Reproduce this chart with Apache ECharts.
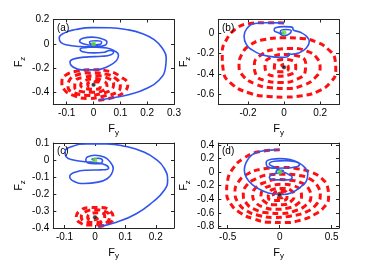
<!DOCTYPE html>
<html><head><meta charset="utf-8">
<script src="https://cdn.jsdelivr.net/npm/echarts@6/dist/echarts.min.js"></script>
<style>html,body{margin:0;padding:0;background:#fff}#c{width:374px;height:262px}</style>
</head><body><div id="c"></div>
<script>
// ---- tick labels ----
const ticksAx = [-0.1, 0, 0.1, 0.2, 0.3];
const ticksAy = [-0.4, -0.2, 0, 0.2];
const ticksBx = [-0.2, 0, 0.2];
const ticksBy = [-0.6, -0.4, -0.2, 0];
const ticksCx = [-0.1, 0, 0.1, 0.2];
const ticksCy = [-0.4, -0.3, -0.2, -0.1, 0, 0.1];
const ticksDx = [-0.5, 0, 0.5];
const ticksDy = [-0.8, -0.6, -0.4, -0.2, 0, 0.2, 0.4];
const panelLabels = ['(a)', '(b)', '(c)', '(d)'];

// ---- fixed points [Fy, Fz] ----
const greenPoint = [0, 0];
const blackPoint = [0, -0.337];

// ---- trajectories [Fy, Fz] ----
const blueA = [[0.018,-0.465],[0.073,-0.445],[0.134,-0.418],[0.195,-0.37],[0.244,-0.3],[0.268,-0.2],[0.271,-0.116],[0.256,-0.035],[0.226,0.034],[0.183,0.083],[0.122,0.118],[0.061,0.132],[-0.006,0.133],[-0.067,0.117],[-0.11,0.088],[-0.128,0.047],[-0.122,0.012],[-0.098,-0.01],[-0.05,-0.022],[0.012,-0.028],[0.05,-0.035],[0.08,-0.06],[0.093,-0.095],[0.085,-0.14],[0.055,-0.185],[0.005,-0.215],[-0.045,-0.215],[-0.08,-0.185],[-0.088,-0.15],[-0.065,-0.12],[-0.02,-0.108],[0.03,-0.103],[0.065,-0.09],[0.075,-0.07],[0.06,-0.055],[0.04,-0.07],[0.0,-0.075],[-0.04,-0.065],[-0.05,-0.045],[-0.025,-0.03],[0.015,-0.022],[0.045,-0.01],[0.05,0.015],[0.03,0.042],[-0.005,0.055],[-0.04,0.045],[-0.052,0.02],[-0.035,-0.002],[-0.005,-0.012],[0.025,-0.005],[0.03,0.015],[0.01,0.025],[-0.015,0.015],[-0.01,0.0],[0.005,0.0]];
const redA = [[0.018,-0.465],[0.075,-0.44],[0.115,-0.395],[0.128,-0.335],[0.1,-0.27],[0.06,-0.228],[0.0,-0.213],[-0.06,-0.225],[-0.105,-0.26],[-0.118,-0.315],[-0.11,-0.375],[-0.075,-0.425],[-0.02,-0.45],[0.04,-0.43],[0.09,-0.395],[0.1,-0.345],[0.085,-0.29],[0.045,-0.25],[-0.01,-0.24],[-0.06,-0.255],[-0.09,-0.3],[-0.095,-0.355],[-0.07,-0.405],[-0.02,-0.425],[0.03,-0.41],[0.068,-0.375],[0.075,-0.33],[0.055,-0.285],[0.015,-0.265],[-0.035,-0.275],[-0.068,-0.31],[-0.07,-0.36],[-0.04,-0.395],[0.0,-0.4],[0.04,-0.38],[0.05,-0.34],[0.035,-0.305],[0.0,-0.29],[-0.035,-0.305],[-0.048,-0.34],[-0.03,-0.37],[0.005,-0.375],[0.025,-0.355],[0.025,-0.325],[0.0,-0.313],[-0.022,-0.33],[-0.015,-0.352],[0.0,-0.337]];
const blueB = [[0.0,0.097],[-0.1,0.098],[-0.17,0.088],[-0.205,0.045],[-0.222,-0.03],[-0.21,-0.11],[-0.165,-0.18],[-0.09,-0.228],[-0.01,-0.24],[0.025,-0.225],[0.02,-0.2],[0.04,-0.21],[0.085,-0.195],[0.125,-0.145],[0.14,-0.085],[0.125,-0.035],[0.09,0.005],[0.05,0.03],[0.048,0.052],[0.0,0.06],[-0.048,0.05],[-0.055,0.025],[-0.03,0.0],[0.0,-0.028],[0.03,-0.01],[0.04,0.02],[0.01,0.032],[-0.02,0.015],[-0.01,-0.005],[0.0,0.0]];
const redB = [[0.0,0.097],[-0.106,0.098],[-0.198,0.088],[-0.272,0.033],[-0.319,-0.065],[-0.343,-0.195],[-0.337,-0.374],[-0.291,-0.498],[-0.198,-0.585],[-0.087,-0.621],[0.0,-0.628],[0.098,-0.615],[0.191,-0.569],[0.256,-0.488],[0.287,-0.374],[0.283,-0.26],[0.246,-0.163],[0.181,-0.091],[0.098,-0.055],[0.0,-0.049],[-0.106,-0.065],[-0.189,-0.12],[-0.235,-0.211],[-0.25,-0.325],[-0.226,-0.423],[-0.161,-0.498],[-0.069,-0.537],[0.015,-0.543],[0.107,-0.511],[0.172,-0.439],[0.2,-0.341],[0.181,-0.244],[0.126,-0.179],[0.043,-0.153],[-0.05,-0.163],[-0.124,-0.211],[-0.165,-0.309],[-0.157,-0.407],[-0.106,-0.465],[-0.013,-0.485],[0.07,-0.455],[0.117,-0.38],[0.12,-0.293],[0.08,-0.228],[0.006,-0.211],[-0.069,-0.237],[-0.106,-0.309],[-0.096,-0.39],[-0.041,-0.423],[0.033,-0.407],[0.065,-0.341],[0.052,-0.276],[-0.004,-0.26],[-0.05,-0.293],[-0.054,-0.358],[-0.013,-0.38],[0.024,-0.351],[0.015,-0.309],[-0.013,-0.316],[0.0,-0.337]];
const blueC = [[0.011,-0.391],[0.071,-0.366],[0.136,-0.316],[0.19,-0.247],[0.228,-0.178],[0.239,-0.119],[0.228,-0.049],[0.201,0.004],[0.158,0.049],[0.103,0.079],[0.038,0.095],[-0.027,0.095],[-0.076,0.079],[-0.098,0.049],[-0.095,0.02],[-0.071,0.0],[-0.033,-0.01],[0.005,-0.016],[0.035,-0.03],[0.045,-0.048],[0.02,-0.058],[-0.025,-0.06],[-0.065,-0.072],[-0.083,-0.097],[-0.07,-0.125],[-0.035,-0.138],[0.01,-0.13],[0.04,-0.11],[0.055,-0.08],[0.06,-0.05],[0.05,-0.012],[0.03,0.018],[0.0,0.028],[-0.025,0.018],[-0.03,0.0],[-0.015,-0.02],[0.015,-0.022],[0.025,-0.005],[0.01,0.01],[-0.01,0.005],[0.0,-0.003]];
const redC = [[0.011,-0.391],[0.045,-0.375],[0.06,-0.34],[0.05,-0.3],[0.02,-0.28],[-0.02,-0.28],[-0.05,-0.3],[-0.062,-0.335],[-0.05,-0.368],[-0.02,-0.383],[0.015,-0.38],[0.043,-0.36],[0.048,-0.33],[0.032,-0.302],[0.0,-0.293],[-0.032,-0.305],[-0.045,-0.335],[-0.032,-0.362],[0.0,-0.368],[0.027,-0.355],[0.032,-0.328],[0.012,-0.31],[-0.015,-0.315],[-0.024,-0.338],[-0.008,-0.352],[0.008,-0.345],[0.0,-0.337]];
const blueD = [[0.0,0.33],[-0.1,0.325],[-0.19,0.305],[-0.27,0.25],[-0.32,0.15],[-0.34,0.03],[-0.32,-0.08],[-0.26,-0.19],[-0.17,-0.27],[-0.07,-0.32],[0.03,-0.33],[0.12,-0.3],[0.2,-0.22],[0.26,-0.12],[0.27,-0.02],[0.24,0.07],[0.18,0.14],[0.1,0.185],[0.0,0.2],[-0.08,0.19],[-0.13,0.14],[-0.12,0.085],[-0.05,0.058],[0.05,0.06],[0.15,0.075],[0.19,0.11],[0.15,0.155],[0.05,0.17],[-0.05,0.16],[-0.1,0.12],[-0.06,0.08],[0.0,0.03],[0.08,-0.03],[0.12,-0.075],[0.07,-0.115],[-0.03,-0.115],[-0.1,-0.075],[-0.07,-0.035],[-0.01,-0.01],[0.035,0.02],[-0.02,0.03],[-0.035,-0.01],[0.02,-0.02],[0.0,0.0]];
const redD = [[0.0,0.33],[-0.2,0.3],[-0.35,0.2],[-0.45,0.05],[-0.5,-0.12],[-0.51,-0.3],[-0.47,-0.47],[-0.38,-0.6],[-0.25,-0.69],[-0.1,-0.74],[0.05,-0.745],[0.2,-0.71],[0.33,-0.63],[0.43,-0.51],[0.47,-0.37],[0.46,-0.22],[0.4,-0.09],[0.3,0.0],[0.17,0.05],[0.03,0.07],[-0.15,0.05],[-0.3,-0.02],[-0.4,-0.15],[-0.43,-0.3],[-0.4,-0.45],[-0.32,-0.57],[-0.2,-0.64],[-0.05,-0.67],[0.1,-0.65],[0.25,-0.59],[0.35,-0.48],[0.39,-0.35],[0.37,-0.22],[0.3,-0.11],[0.19,-0.05],[0.05,-0.03],[-0.1,-0.04],[-0.23,-0.1],[-0.32,-0.2],[-0.35,-0.33],[-0.32,-0.46],[-0.24,-0.55],[-0.12,-0.6],[0.02,-0.61],[0.15,-0.57],[0.25,-0.49],[0.3,-0.37],[0.28,-0.25],[0.21,-0.16],[0.1,-0.12],[-0.02,-0.11],[-0.14,-0.15],[-0.23,-0.23],[-0.26,-0.34],[-0.23,-0.45],[-0.15,-0.52],[-0.04,-0.55],[0.08,-0.53],[0.17,-0.47],[0.21,-0.37],[0.2,-0.27],[0.13,-0.2],[0.03,-0.18],[-0.08,-0.2],[-0.16,-0.26],[-0.18,-0.35],[-0.15,-0.43],[-0.07,-0.48],[0.03,-0.48],[0.11,-0.43],[0.14,-0.35],[0.11,-0.27],[0.04,-0.24],[-0.05,-0.25],[-0.1,-0.3],[-0.11,-0.37],[-0.06,-0.42],[0.02,-0.42],[0.07,-0.38],[0.07,-0.31],[0.02,-0.28],[-0.03,-0.29],[-0.06,-0.34],[-0.03,-0.38],[0.02,-0.38],[0.04,-0.34],[0.01,-0.31],[-0.01,-0.33],[0.0,-0.34]];

// ---- layout ----
const panels = [
  {grid:{left:53.3, top:19.5, width:120.7, height:85}, x:[-0.15,0.3], y:[-0.5,0.2], xt:ticksAx, yt:ticksAy, blue:blueA, red:redA, lab:[57,29]},
  {grid:{left:218.3, top:19.5, width:120.7, height:85}, x:[-0.365,0.305], y:[-0.7,0.13], xt:ticksBx, yt:ticksBy, blue:blueB, red:redB, lab:[222,29]},
  {grid:{left:53.3, top:143, width:120.7, height:85}, x:[-0.137,0.26], y:[-0.4,0.1], xt:ticksCx, yt:ticksCy, blue:blueC, red:redC, lab:[57,152]},
  {grid:{left:218.3, top:143, width:120.7, height:85}, x:[-0.59,0.57], y:[-0.825,0.43], xt:ticksDx, yt:ticksDy, blue:blueD, red:redD, lab:[222,152]}
];

const FONT = 'Liberation Sans, Arial, Helvetica, sans-serif';
const AX = '#262626';
const grids = [], xAxes = [], yAxes = [], series = [], graphics = [];
const nameRich = {f:{fontSize:11, fontFamily:FONT, color:'#000'}, s:{fontSize:8, fontFamily:FONT, color:'#000', padding:[7,0,0,0]}};
panels.forEach((p, i) => {
  grids.push(p.grid);
  const common = (vals, min, max, pos, showLab) => ({
    type:'value', gridIndex:i, min:min, max:max, position:pos,
    splitLine:{show:false},
    axisLine:{show:true, onZero:false, lineStyle:{color:AX, width:1}},
    axisTick:{show:true, inside:true, length:3, customValues:vals, lineStyle:{color:AX}},
    axisLabel:{show:showLab, customValues:vals, fontSize:10, fontFamily:FONT, color:'#000', margin:4},
  });
  const xb = common(p.xt, p.x[0], p.x[1], 'bottom', true);
  xb.name = '{f|F}{s|y}'; xb.nameLocation = 'middle'; xb.nameGap = 17; xb.nameTextStyle = {rich:nameRich};
  const xt = common(p.xt, p.x[0], p.x[1], 'top', false);
  const yl = common(p.yt, p.y[0], p.y[1], 'left', true);
  yl.name = '{f|F}{s|z}'; yl.nameLocation = 'middle'; yl.nameGap = 27; yl.nameRotate = 90; yl.nameTextStyle = {rich:nameRich};
  const yr = common(p.yt, p.y[0], p.y[1], 'right', false);
  xAxes.push(xb, xt); yAxes.push(yl, yr);
  const xi = 2*i, yi = 2*i;
  series.push({type:'line', xAxisIndex:xi, yAxisIndex:yi, data:p.red, showSymbol:false, smooth:0.5, silent:true, animation:false, z:2,
    lineStyle:{color:'#ff1010', width:3, type:[6,4]}});
  series.push({type:'line', xAxisIndex:xi, yAxisIndex:yi, data:p.blue, showSymbol:false, smooth:0.5, silent:true, animation:false, z:3,
    lineStyle:{color:'#2f55ee', width:1.6}});
  series.push({type:'scatter', xAxisIndex:xi, yAxisIndex:yi, data:[greenPoint], symbol:'circle', symbolSize:5, silent:true, animation:false, z:5,
    itemStyle:{color:'#66dd33'}});
  series.push({type:'scatter', xAxisIndex:xi, yAxisIndex:yi, data:[blackPoint], symbol:'circle', symbolSize:4, silent:true, animation:false, z:5,
    itemStyle:{color:'#111', borderColor:'#888', borderWidth:0.5}});
  graphics.push({type:'text', left:p.lab[0], top:p.lab[1]-6, z:10, style:{text:panelLabels[i], fontSize:10, fontFamily:FONT, fill:'#000'}});
});

const chart = echarts.init(document.getElementById('c'), null, {renderer:'canvas'});
chart.setOption({animation:false, grid:grids, xAxis:xAxes, yAxis:yAxes, series:series, graphic:graphics});
</script></body></html>
